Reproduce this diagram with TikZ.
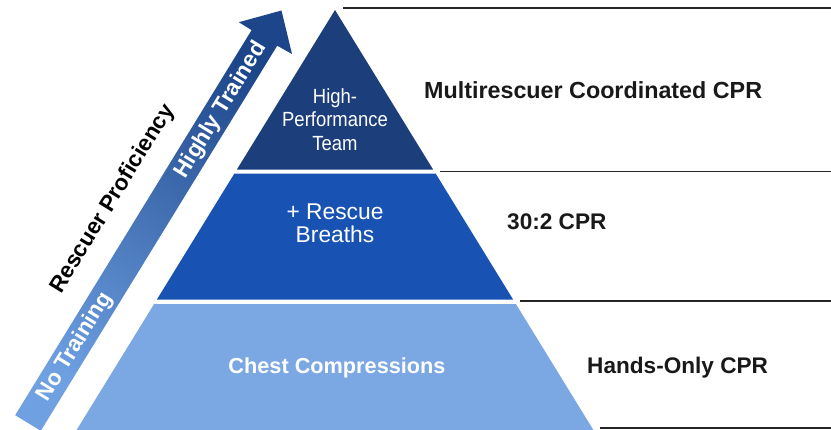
\documentclass[tikz,border=0pt]{standalone}
\usepackage{fontspec}
\setmainfont{Liberation Sans}
\newfontfamily\narrowfont[FakeStretch=0.9]{Liberation Sans}
\definecolor{tiertop}{HTML}{1C3E7B}
\definecolor{tiermid}{HTML}{1853B4}
\definecolor{tierlow}{HTML}{7BA7E3}
\definecolor{arrowlo}{HTML}{6EA0E2}
\definecolor{arrowhi}{HTML}{1D468A}
\begin{document}
\begin{tikzpicture}[x=1pt,y=-1pt,
  rule/.style={draw=black!85, line width=1.8pt},
  lbl/.style={font=\bfseries\fontsize{22.6}{27}\selectfont, text=black!90, inner sep=0pt, anchor=base west},
  intext/.style={text=white, inner sep=0pt, align=center},
  axlbl/.style={font=\bfseries\fontsize{22.5}{26}\selectfont, inner sep=0pt, rotate=58.4}]
\useasboundingbox (0,0) rectangle (831,429);

% arrow
\shade[bottom color=arrowlo, top color=arrowhi, shading angle=-31.6]
  (15.2,415.2) -- (251.6,30.1) -- (238.8,22.2) -- (281.5,10.5) -- (292.0,54.0)
  -- (277.2,45.7) -- (40.8,430.8) -- cycle;

% pyramid tiers
\fill[tiertop] (335,10) -- (433.1,169.5) -- (236.9,169.5) -- cycle;
\fill[tiermid] (234.4,173.5) -- (435.6,173.5) -- (513.1,299.5) -- (156.9,299.5) -- cycle;
\fill[tierlow] (154.1,304) -- (515.9,304) -- (594,431) -- (76,431) -- cycle;

% rules
\coordinate (r1a) at (343,8);   \coordinate (r1b) at (831,8);
\coordinate (r2a) at (440,171.5); \coordinate (r2b) at (831,171.5);
\coordinate (r3a) at (520,301); \coordinate (r3b) at (831,301);
\coordinate (r4a) at (600,428); \coordinate (r4b) at (831,428);
\draw[rule] (r1a) -- (r1b);
\draw[rule] (r2a) -- (r2b);
\draw[rule] (r3a) -- (r3b);
\draw[rule] (r4a) -- (r4b);

% tier texts
\node[intext, font=\narrowfont\fontsize{20.5}{23.5}\selectfont] (hpt) at (335,119.5) {High-\\Performance\\Team};
\node[intext, font=\fontsize{22.8}{23}\selectfont] (rb) at (335,223.5) {+ Rescue\\Breaths};
\node[intext, font=\bfseries\fontsize{21.7}{25}\selectfont, anchor=base] (cc) at (337,373) {Chest Compressions};

% right labels
\node[lbl, font=\bfseries\fontsize{23.3}{27}\selectfont] (mcc) at (424,98) {Multirescuer Coordinated CPR};
\node[lbl] (c302) at (507,229) {30:2 CPR};
\node[lbl] (hoc) at (587,373) {Hands-Only CPR};

% axis labels
\node[axlbl, text=black] (rp) at (113,199) {Rescuer Proficiency};
\node[axlbl, text=white] (ht) at (221,110) {Highly Trained};
\node[axlbl, text=white] (nt) at (75,347) {No Training};
\end{tikzpicture}
\end{document}
